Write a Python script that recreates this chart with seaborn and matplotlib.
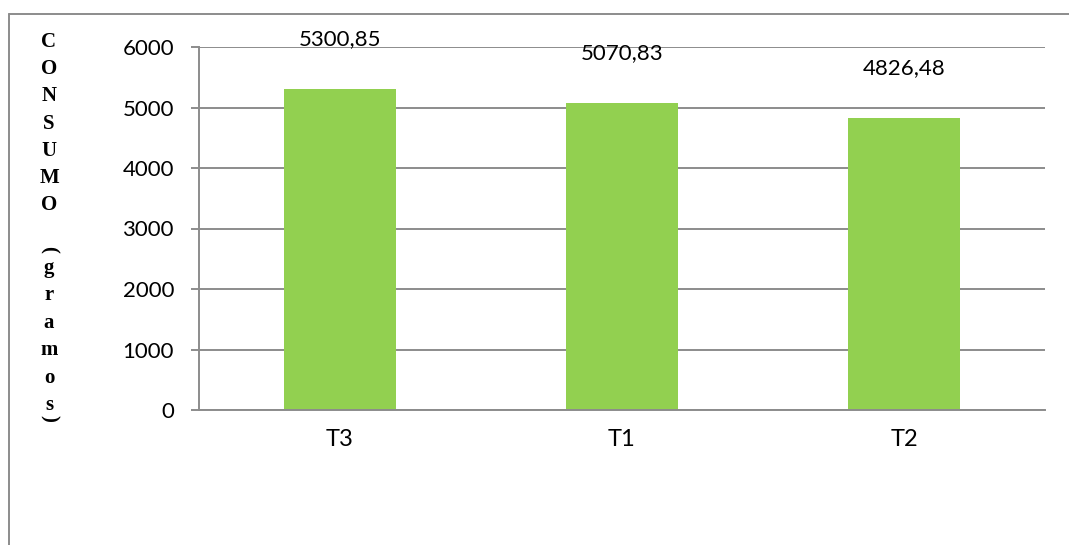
import matplotlib
matplotlib.use("Agg")
import matplotlib.pyplot as plt
import seaborn as sns
import pandas as pd
from matplotlib.lines import Line2D

# Data
tratamientos = ["T3", "T1", "T2"]
consumo = [5300.85, 5070.83, 4826.48]
etiquetas = ["5300,85", "5070,83", "4826,48"]
y_ticks = [0, 1000, 2000, 3000, 4000, 5000, 6000]

sns.set_theme(style="white")
plt.rcParams["font.family"] = ["Lato", "DejaVu Sans"]

W, H = 1069, 545
fig = plt.figure(figsize=(W / 100, H / 100), dpi=100)

# Outer chart frame (top and left edges)
grey = "#8c8c8c"
fig.add_artist(Line2D([9 / W, 1.0], [1 - 14 / H, 1 - 14 / H], color=grey, lw=1.4,
                      transform=fig.transFigure))
fig.add_artist(Line2D([9 / W, 9 / W], [0.0, 1 - 14 / H], color=grey, lw=1.4,
                      transform=fig.transFigure))

ax = fig.add_axes([199 / W, 1 - 410 / H, (1045 - 199) / W, (410 - 47) / H])

df = pd.DataFrame({"trat": tratamientos, "consumo": consumo})
sns.barplot(data=df, x="trat", y="consumo", color="#92D050", saturation=1,
            width=0.4, ax=ax, edgecolor="none")

ax.set_xlim(-0.5, len(tratamientos) - 0.5)
ax.set_ylim(0, 6000)
ax.set_yticks(y_ticks)
ax.set_yticklabels([str(v) for v in y_ticks], fontsize=16, color="black")
ax.set_xticks(range(len(tratamientos)))
ax.set_xticklabels(tratamientos, fontsize=17, color="black")
ax.yaxis.grid(True, color=grey, lw=1.4)
ax.set_axisbelow(True)
for side in ["top", "right"]:
    ax.spines[side].set_visible(False)
ax.spines["left"].set_color(grey)
ax.spines["left"].set_linewidth(1.4)
ax.spines["bottom"].set_color(grey)
ax.spines["bottom"].set_linewidth(1.4)
ax.tick_params(axis="y", which="both", left=True, length=6, width=1.4, color=grey, pad=12)
ax.tick_params(axis="x", bottom=False, pad=8)
ax.set_xlabel("")
ax.set_ylabel("")

# Value labels above each bar
for i, (v, t) in enumerate(zip(consumo, etiquetas)):
    ax.annotate(t, xy=(i, v), xytext=(0, 36), textcoords="offset points",
                ha="center", va="center", fontsize=16, color="black")

# Stacked vertical axis title
serif = dict(family=["Liberation Serif", "DejaVu Serif"], weight="bold",
             fontsize=15, color="black", ha="center", va="center")
letras1 = list("CONSUMO")
for k, ch in enumerate(letras1):
    fig.text(49 / W, 1 - (42 + 27.2 * k) / H, ch, **serif)
fig.text(49 / W, 1 - 249 / H, "(", rotation=-90, **serif)
letras2 = list("gramos")
for k, ch in enumerate(letras2):
    fig.text(49 / W, 1 - (268 + 27.4 * k) / H, ch, **serif)
fig.text(49 / W, 1 - 418 / H, ")", rotation=-90, **serif)

fig.savefig("out.png", dpi=100)
